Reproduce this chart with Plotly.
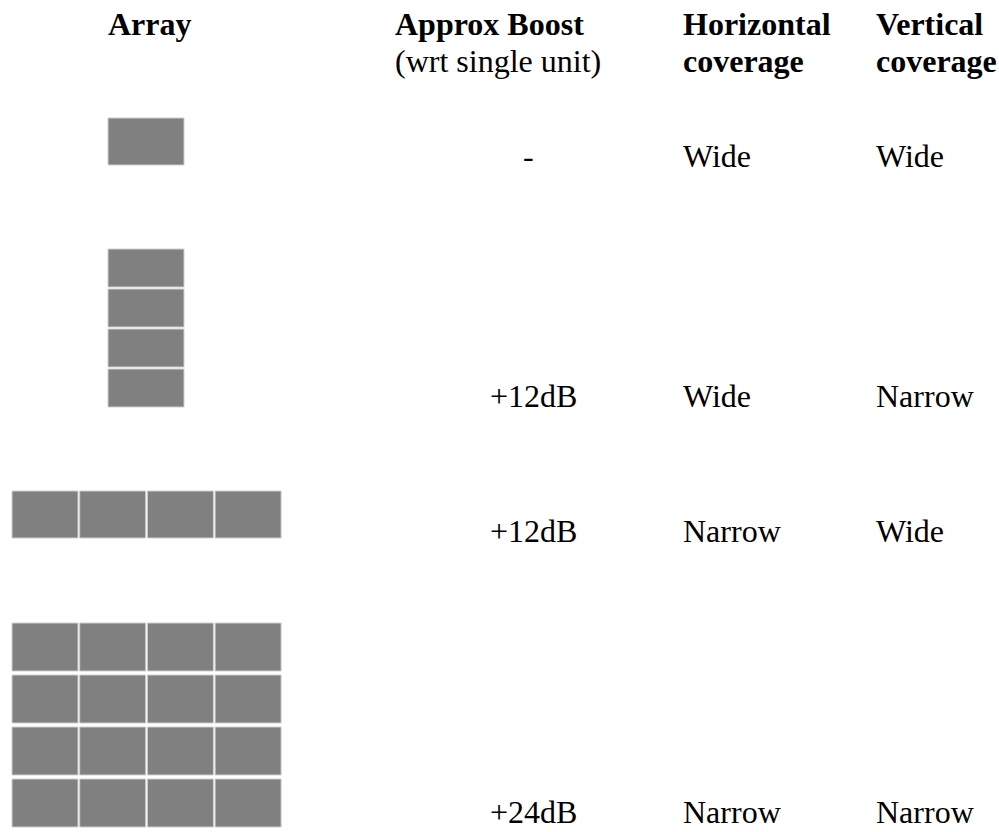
import plotly.graph_objects as go

# ---- data ----
header_col1 = ["Array"]
header_col2 = ["Approx Boost", "(wrt single unit)"]
header_col3 = ["Horizontal", "coverage"]
header_col4 = ["Vertical", "coverage"]

array_rows = [1, 4, 1, 4]          # units stacked vertically
array_cols = [1, 1, 4, 4]          # units side by side
boost = ["-", "+12dB", "+12dB", "+24dB"]
horizontal = ["Wide", "Wide", "Narrow", "Narrow"]
vertical = ["Wide", "Narrow", "Wide", "Narrow"]

# ---- layout geometry (pixels in a 999x832 canvas) ----
W, H = 999, 832
FS = 32
row_baseline = [167, 407, 542, 823]
row_box_bottom = [165, 407, 538, 827]
cell_geom = [  # left, cell w, cell h, pitch x, pitch y
    (108, 76, 47, 0, 0),
    (108, 76, 38, 0, 40),
    (12, 66, 47, 67.7, 0),
    (12, 66, 48, 67.7, 52),
]
col_left = [107, 394, 682, 875]
header_baselines = [35, 72]


def center_from_baseline(b):
    return b - 0.35 * FS


xs, ys = [], []
for i, (nr, nc) in enumerate(zip(array_rows, array_cols)):
    left, cw, ch, px, py = cell_geom[i]
    bottom = row_box_bottom[i]
    for r in range(nr):
        for c in range(nc):
            x0 = left + c * px
            x1 = x0 + cw
            y1 = bottom - (nr - 1 - r) * py
            y0 = y1 - ch
            xs += [x0, x1, x1, x0, x0, None]
            ys += [y0, y0, y1, y1, y0, None]

fig = go.Figure()
fig.add_trace(go.Scatter(
    x=xs, y=ys, mode="lines", fill="toself",
    fillcolor="#808080", line=dict(color="#cfcfcf", width=1),
    hoverinfo="skip", showlegend=False,
))

annotations = []


def add_text(txt, x, baseline, bold=False, anchor="left"):
    annotations.append(dict(
        x=x, y=center_from_baseline(baseline), xref="x", yref="y",
        text=txt, showarrow=False, xanchor=anchor, yanchor="middle",
        borderpad=0,
        font=dict(family="Liberation Serif, Times New Roman, serif", size=FS,
                  color="black", weight="bold" if bold else "normal"),
    ))


headers = [header_col1, header_col2, header_col3, header_col4]
for ci, lines in enumerate(headers):
    for li, line in enumerate(lines):
        bold = (li == 0) or ci in (2, 3)
        add_text(line, col_left[ci], header_baselines[li], bold=bold)

for i in range(len(boost)):
    if boost[i] == "-":
        add_text(boost[i], 528, row_baseline[i], anchor="center")
    else:
        add_text(boost[i], 489, row_baseline[i])
    add_text(horizontal[i], col_left[2], row_baseline[i])
    add_text(vertical[i], col_left[3], row_baseline[i])

fig.update_layout(
    width=W, height=H,
    margin=dict(l=0, r=0, t=0, b=0),
    paper_bgcolor="white", plot_bgcolor="white",
    xaxis=dict(range=[0, W], visible=False, fixedrange=True),
    yaxis=dict(range=[H, 0], visible=False, fixedrange=True),
    annotations=annotations,
    showlegend=False,
)

fig.write_html(
    "out.html",
    config={"displayModeBar": False},
    post_script="document.body.style.margin='0';document.body.style.overflow='hidden';",
)
